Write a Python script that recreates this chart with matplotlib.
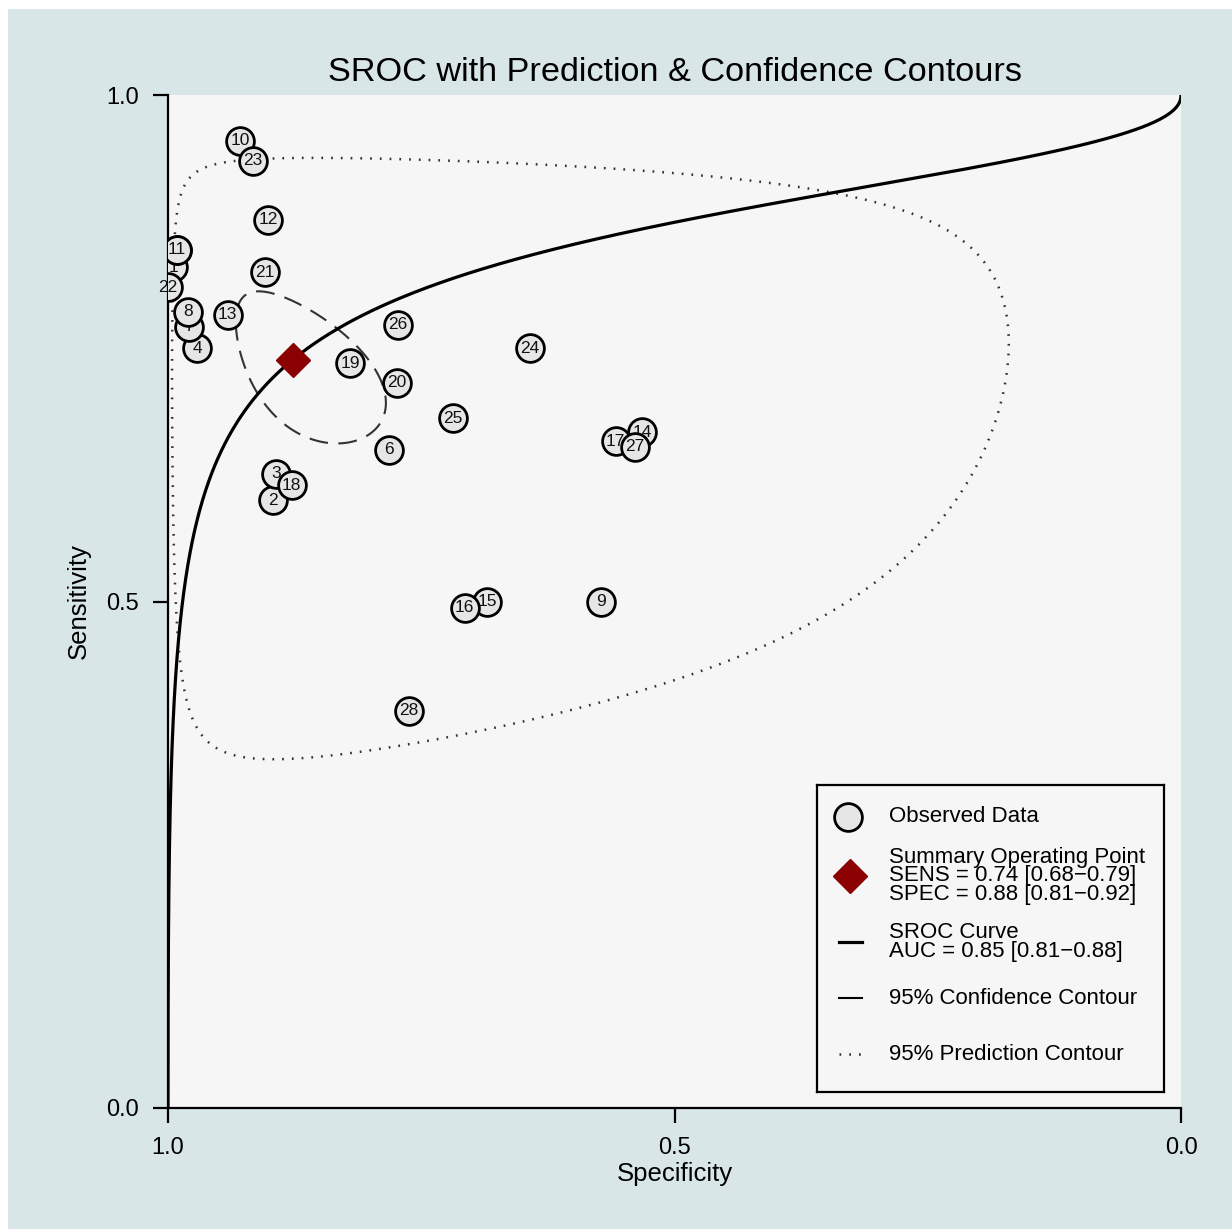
import numpy as np
import matplotlib.pyplot as plt
from matplotlib.patches import Rectangle

plt.rcParams['font.family'] = ['Liberation Sans', 'DejaVu Sans']

# ── Observed studies ──────────────────────────────────────────────────────────
study_ids = list(range(1, 29))
specificity = [0.995, 0.896, 0.893, 0.971, 0.991, 0.782, 0.979, 0.980,
               0.573, 0.929, 0.991, 0.901, 0.941, 0.532, 0.685, 0.707,
               0.558, 0.878, 0.820, 0.774, 0.904, 1.000, 0.916, 0.643,
               0.719, 0.773, 0.539, 0.762]
sensitivity = [0.830, 0.600, 0.626, 0.750, 0.847, 0.650, 0.771, 0.786,
               0.500, 0.955, 0.847, 0.877, 0.783, 0.667, 0.500, 0.494,
               0.658, 0.615, 0.735, 0.716, 0.825, 0.810, 0.935, 0.750,
               0.681, 0.773, 0.653, 0.392]

# Summary operating point
summary_spec = 0.877
summary_sens = 0.738

# SROC curve: logit(sens) = alpha + beta * logit(1 - spec)
sroc_alpha = 1.94
sroc_beta = 0.459

# Contours in logit space: half-axes and phase shift (deg), centred on summary
conf_axes = (0.67, 0.39, 58.0)
pred_axes = (3.55, 1.68, 93.0)

legend_labels = [
    'Observed Data',
    'Summary Operating Point\nSENS = 0.74 [0.68\u22120.79]\nSPEC = 0.88 [0.81\u22120.92]',
    'SROC Curve\nAUC = 0.85 [0.81\u22120.88]',
    '95% Confidence Contour',
    '95% Prediction Contour',
]


def logit(p):
    return np.log(p / (1 - p))


def expit(x):
    return 1 / (1 + np.exp(-x))


def contour(ax_x, ax_y, shift_deg):
    t = np.linspace(0, 2 * np.pi, 400)
    lx = logit(summary_spec) + ax_x * np.cos(t)
    ly = logit(summary_sens) + ax_y * np.cos(t + np.radians(shift_deg))
    return expit(lx), expit(ly)


W, H = 1232, 1229
fig = plt.figure(figsize=(W / 100, H / 100), dpi=100, facecolor='white')
fig.patches.append(Rectangle((8 / W, 0), 1, 1 - 9 / H, transform=fig.transFigure,
                             facecolor='#d9e6e7', edgecolor='none', zorder=-10))

ax = fig.add_axes([168 / W, 121 / H, 1013 / W, 1013 / H])
ax.set_facecolor('#f6f6f6')
ax.set_xlim(1, 0)
ax.set_ylim(0, 1)
for side in ('top', 'right'):
    ax.spines[side].set_visible(False)
for side in ('left', 'bottom'):
    ax.spines[side].set_linewidth(1.6)
ax.set_xticks([1.0, 0.5, 0.0])
ax.set_yticks([0.0, 0.5, 1.0])
ax.set_xticklabels(['1.0', '0.5', '0.0'])
ax.set_yticklabels(['0.0', '0.5', '1.0'])
ax.tick_params(length=11, width=1.6, labelsize=17, pad=10)
ax.set_xlabel('Specificity', fontsize=18.5, labelpad=2)
ax.set_ylabel('Sensitivity', fontsize=18.5, labelpad=11)
ax.set_title('SROC with Prediction & Confidence Contours', fontsize=24.7, pad=10)

# SROC curve
fpr = expit(np.linspace(-14, 14, 2000))
sens_curve = expit(sroc_alpha + sroc_beta * logit(fpr))
fpr = np.concatenate([[0.0], fpr, [1.0]])
sens_curve = np.concatenate([[0.0], sens_curve, [1.0]])
ax.plot(1 - fpr, sens_curve, color='black', lw=2.3, zorder=3, solid_capstyle='round')

# Confidence and prediction contours
cx, cy = contour(*conf_axes)
ax.plot(cx, cy, color='#333333', lw=1.5, ls=(0, (9, 5)), zorder=2)
px, py = contour(*pred_axes)
ax.plot(px, py, color='#333333', lw=1.8, ls=(0, (0.7, 3.2)), zorder=2)

# Observed studies, later ones drawn on top
for k, (sid, sp, se) in enumerate(zip(study_ids, specificity, sensitivity)):
    z = 10 + 2 * k
    ax.plot(sp, se, 'o', ms=20, mfc='#e6e6e6', mec='black', mew=2.0, zorder=z)
    ax.text(sp, se, str(sid), ha='center', va='center', fontsize=12.5,
            color='#111111', zorder=z + 1)

# Summary point
ax.plot(summary_spec, summary_sens, 'D', ms=17, color='#8b0000', zorder=80)

# ── Legend box ────────────────────────────────────────────────────────────────
lg = fig.add_axes([817 / W, (H - 1092) / H, 347 / W, 307 / H])
lg.set_xlim(0, 347)
lg.set_ylim(307, 0)
lg.set_xticks([])
lg.set_yticks([])
lg.set_facecolor('#f6f6f6')
for s in lg.spines.values():
    s.set_linewidth(1.6)
    s.set_color('black')

rows_y = [32, 91, 157, 213, 269]
lg.plot(31, rows_y[0], 'o', ms=20, mfc='#e6e6e6', mec='black', mew=2.0)
lg.plot(33, rows_y[1], 'D', ms=17, color='#8b0000')
lg.plot([22, 45], [rows_y[2]] * 2, color='black', lw=2.3)
lg.plot([22, 45], [rows_y[3]] * 2, color='black', lw=1.5)
lg.plot([22, 45], [rows_y[4]] * 2, color='#333333', lw=1.8, ls=(0, (0.7, 3.2)))
for y, lab in zip(rows_y, legend_labels):
    lg.text(72, y, lab, ha='left', va='center', fontsize=16, linespacing=0.85)

fig.savefig('out.png', dpi=100, facecolor=fig.get_facecolor())
